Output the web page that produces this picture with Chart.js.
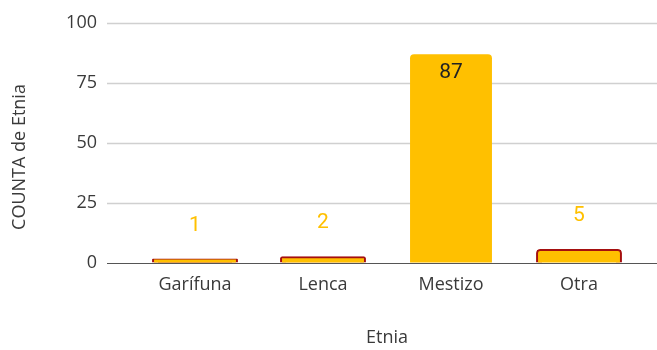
<!DOCTYPE html>
<html>
<head>
<meta charset="utf-8">
<script src="https://cdn.jsdelivr.net/npm/chart.js@4"></script>
<style>
  html, body { margin: 0; padding: 0; background: #fff; }
  #wrap { width: 657px; height: 350px; }
</style>
</head>
<body>
<div id="wrap"><canvas id="chart"></canvas></div>
<script>
const categories = ['Garífuna', 'Lenca', 'Mestizo', 'Otra'];
const counts = [1, 2, 87, 5];
const yTicks = [0, 25, 50, 75, 100];
const yTitle = 'COUNTA de Etnia';
const xTitle = 'Etnia';

const barColor = '#FFC000';
const edgeColor = '#A50F0F';
const textColor = '#3a3a3a';
const fontFam = 'Open Sans';

// lineas de fondo, un poco mas anchas que el area del grafico
const gridPlugin = {
  id: 'gridWide',
  beforeDatasetsDraw(chart) {
    const ctx = chart.ctx;
    const y = chart.scales.y;
    ctx.save();
    yTicks.forEach(v => {
      const py = Math.round(y.getPixelForValue(v)) + 0.5;
      ctx.beginPath();
      ctx.moveTo(107, py);
      ctx.lineTo(657, py);
      ctx.strokeStyle = v === 0 ? '#555555' : '#d0d0d0';
      ctx.lineWidth = v === 0 ? 1.2 : 1.5;
      ctx.stroke();
    });
    ctx.restore();
  }
};

// etiquetas de valor + titulo del eje Y (algo mas abajo del centro, como en el original)
const labelPlugin = {
  id: 'valueLabels',
  afterDatasetsDraw(chart) {
    const ctx = chart.ctx;
    const meta = chart.getDatasetMeta(0);
    ctx.save();
    ctx.font = '21px Roboto';
    ctx.textAlign = 'center';
    ctx.textBaseline = 'middle';
    meta.data.forEach((bar, i) => {
      const v = counts[i];
      if (v > 50) {
        ctx.fillStyle = '#222222';
        ctx.fillText(String(v), bar.x, bar.y + 19);
      } else {
        ctx.fillStyle = barColor;
        ctx.fillText(String(v), bar.x, bar.y - 35);
      }
    });
    ctx.translate(20, 157);
    ctx.rotate(-Math.PI / 2);
    ctx.font = '18px "' + fontFam + '"';
    ctx.fillStyle = textColor;
    ctx.fillText(yTitle, 0, 0);
    ctx.restore();
  }
};

new Chart(document.getElementById('chart'), {
  type: 'bar',
  data: {
    labels: categories,
    datasets: [{
      label: yTitle,
      data: counts,
      backgroundColor: barColor,
      borderColor: edgeColor,
      borderWidth: counts.map(v => v > 50 ? 0 : 2),
      inflateAmount: counts.map(v => v > 50 ? 0 : 2),
      borderRadius: 4,
      borderSkipped: 'bottom',
      categoryPercentage: 0.8,
      barPercentage: 0.8
    }]
  },
  options: {
    responsive: true,
    maintainAspectRatio: false,
    animation: false,
    layout: { padding: { top: 23, right: 14, left: 0, bottom: 0 } },
    plugins: {
      legend: { display: false },
      tooltip: { enabled: false }
    },
    scales: {
      x: {
        grid: { display: false, drawTicks: false },
        border: { display: false },
        ticks: { padding: 11, color: textColor, font: { family: fontFam, size: 18 } },
        title: {
          display: true, text: xTitle, color: textColor,
          font: { family: fontFam, size: 18 }, padding: { top: 2, bottom: 1 }
        },
        afterFit(scale) { scale.height = 87; }
      },
      y: {
        min: 0, max: 100,
        // marcas invisibles, solo para separar las etiquetas del eje
        grid: { drawOnChartArea: false, drawTicks: true, tickLength: 24, color: 'rgba(0,0,0,0)' },
        border: { display: false },
        ticks: {
          stepSize: 25, padding: 10, color: textColor,
          font: { family: fontFam, size: 18 }
        },
        title: { display: false },
        afterFit(scale) { scale.width = 131; }
      }
    }
  },
  plugins: [gridPlugin, labelPlugin]
});
</script>
</body>
</html>
